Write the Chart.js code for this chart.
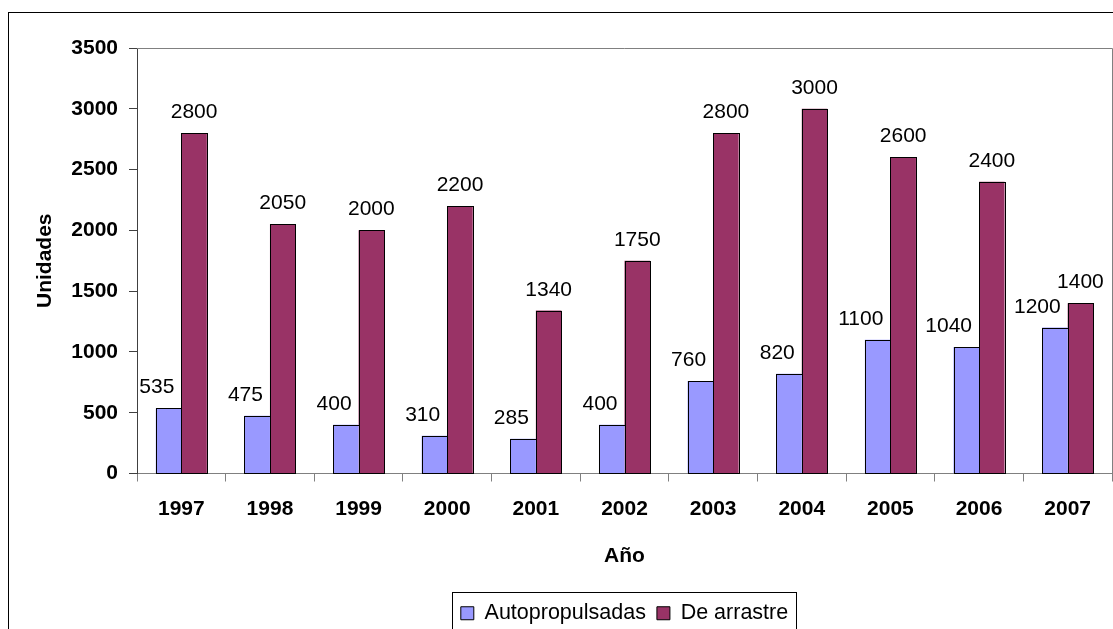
<!DOCTYPE html>
<html>
<head>
<meta charset="utf-8">
<script src="https://cdn.jsdelivr.net/npm/chart.js@4/dist/chart.umd.min.js"></script>
<style>
  html, body { margin: 0; padding: 0; background: #fff; overflow: hidden; }
  #wrap { width: 1120px; height: 634px; }
</style>
</head>
<body>
<div id="wrap"><canvas id="chart"></canvas></div>
<script>
// datos
const years = ["1997", "1998", "1999", "2000", "2001", "2002", "2003", "2004", "2005", "2006", "2007"];
const autopropulsadas = [535, 475, 400, 310, 285, 400, 760, 820, 1100, 1040, 1200];
const deArrastre = [2800, 2050, 2000, 2200, 1340, 1750, 2800, 3000, 2600, 2400, 1400];
const yTicks = [0, 500, 1000, 1500, 2000, 2500, 3000, 3500];

const FONT = "'Liberation Sans', Arial, sans-serif";

// marco exterior y borde del area de trazado
const framePlugin = {
    id: 'frame',
    beforeDraw(chart) {
        const ctx = chart.ctx;
        ctx.save();
        ctx.strokeStyle = '#000';
        ctx.lineWidth = 1;
        ctx.strokeRect(8.5, 12.5, chart.width + 20, chart.height + 20);
        ctx.restore();
    },
    afterDraw(chart) {
        const a = chart.chartArea;
        const ctx = chart.ctx;
        ctx.save();
        ctx.strokeStyle = '#808080';
        ctx.lineWidth = 1;
        ctx.beginPath();
        ctx.moveTo(a.left, a.top + 0.5);
        ctx.lineTo(a.right + 0.5, a.top + 0.5);
        ctx.lineTo(a.right + 0.5, a.bottom);
        ctx.stroke();

        // caja de la leyenda
        const boxes = chart.legend.legendHitBoxes;
        if (boxes && boxes.length) {
            const first = boxes[0], last = boxes[boxes.length - 1];
            const x0 = Math.round(first.left) - 8.5;
            const x1 = Math.round(last.left + last.width) + 8.5;
            const y0 = Math.round(first.top) - 10.5;
            ctx.strokeStyle = '#000';
            ctx.strokeRect(x0, y0, x1 - x0, 100);
        }
        ctx.restore();
    }
};

// bordes nitidos de las barras y etiquetas de valores
const valuesPlugin = {
    id: 'values',
    afterDatasetsDraw(chart) {
        const ctx = chart.ctx;
        ctx.save();
        ctx.strokeStyle = '#000';
        ctx.lineWidth = 1;
        chart.data.datasets.forEach((ds, i) => {
            chart.getDatasetMeta(i).data.forEach(bar => {
                const l = Math.round(bar.x - bar.width / 2);
                const r = Math.round(bar.x + bar.width / 2);
                const t = Math.round(bar.y);
                const b = Math.round(bar.base);
                ctx.strokeRect(l + 0.5, t + 0.5, r - l, b - t);
            });
        });

        ctx.font = '21px ' + FONT;
        ctx.fillStyle = '#000';
        ctx.textBaseline = 'alphabetic';
        chart.data.datasets.forEach((ds, i) => {
            chart.getDatasetMeta(i).data.forEach((bar, j) => {
                const txt = String(ds.data[j]);
                if (i === 0) {
                    ctx.textAlign = 'right';
                    ctx.fillText(txt, bar.x + bar.width / 2 - 7, bar.y - 15);
                } else {
                    ctx.textAlign = 'center';
                    ctx.fillText(txt, bar.x, bar.y - 15);
                }
            });
        });
        ctx.restore();
    }
};

new Chart(document.getElementById('chart'), {
    type: 'bar',
    data: {
        labels: years,
        datasets: [{
            label: 'Autopropulsadas',
            data: autopropulsadas,
            backgroundColor: '#9999FF',
            borderWidth: 0
        }, {
            label: 'De arrastre',
            data: deArrastre,
            backgroundColor: '#993366',
            borderWidth: 0
        }]
    },
    options: {
        responsive: true,
        maintainAspectRatio: false,
        animation: false,
        datasets: {
            bar: { categoryPercentage: 0.576, barPercentage: 1 }
        },
        layout: { padding: { left: 20, top: 48, right: 8, bottom: 0 } },
        plugins: {
            tooltip: { enabled: false },
            legend: {
                position: 'bottom',
                fullSize: false,
                labels: {
                    boxWidth: 13,
                    boxHeight: 13,
                    padding: 11,
                    color: '#000',
                    font: { family: FONT, size: 21.5 },
                    generateLabels(chart) {
                        return chart.data.datasets.map((ds, i) => ({
                            text: ds.label,
                            fillStyle: ds.backgroundColor,
                            strokeStyle: '#000',
                            lineWidth: 1,
                            datasetIndex: i
                        }));
                    }
                }
            }
        },
        scales: {
            x: {
                grid: {
                    offset: true,
                    drawOnChartArea: false,
                    tickLength: 8,
                    color: '#808080'
                },
                border: { color: '#808080' },
                ticks: {
                    color: '#000',
                    padding: 15,
                    font: { family: FONT, size: 21, weight: 'bold' }
                },
                title: {
                    display: true,
                    text: 'Año',
                    color: '#000',
                    padding: { top: 0, bottom: 23 },
                    font: { family: FONT, size: 21, weight: 'bold' }
                },
                afterFit(scale) { scale.height = 118; }
            },
            y: {
                min: 0,
                max: 3500,
                afterBuildTicks(scale) {
                    scale.ticks = yTicks.map(v => ({ value: v }));
                },
                grid: {
                    drawOnChartArea: false,
                    tickLength: 8,
                    color: '#404040'
                },
                border: { color: '#404040' },
                ticks: {
                    color: '#000',
                    padding: 11,
                    font: { family: FONT, size: 21, weight: 'bold' },
                    callback: v => String(v)
                },
                title: {
                    display: true,
                    text: 'Unidades',
                    color: '#000',
                    padding: { top: 13, bottom: 0 },
                    font: { family: FONT, size: 21, weight: 'bold' }
                },
                afterFit(scale) { scale.width = 117; }
            }
        }
    },
    plugins: [framePlugin, valuesPlugin]
});
</script>
</body>
</html>
